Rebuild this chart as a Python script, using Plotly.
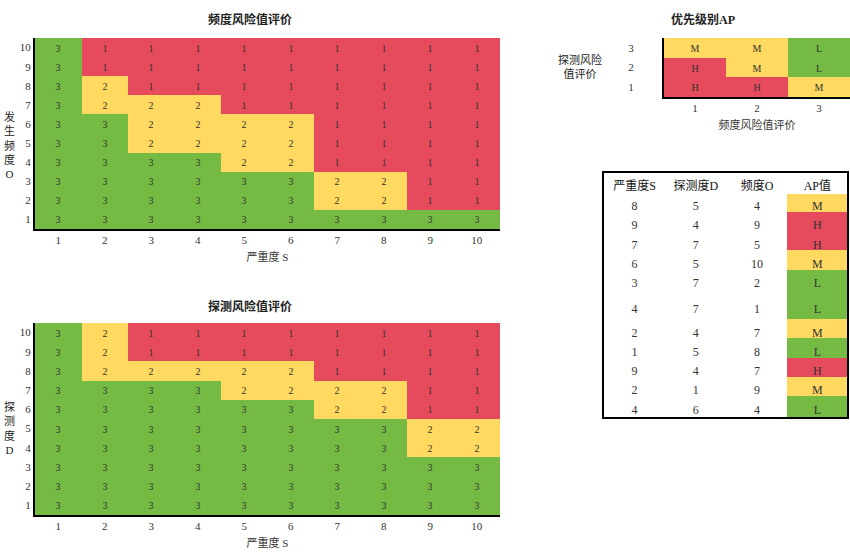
import plotly.graph_objects as go

# 风险值: 1 = 高, 2 = 中, 3 = 低
scores = list(range(1, 11))

freq_risk = [  # rows: 频度O = 1..10, cols: 严重度S = 1..10
    [3, 3, 3, 3, 3, 3, 3, 3, 3, 3],
    [3, 3, 3, 3, 3, 3, 2, 2, 1, 1],
    [3, 3, 3, 3, 3, 3, 2, 2, 1, 1],
    [3, 3, 3, 3, 2, 2, 1, 1, 1, 1],
    [3, 3, 2, 2, 2, 2, 1, 1, 1, 1],
    [3, 3, 2, 2, 2, 2, 1, 1, 1, 1],
    [3, 2, 2, 2, 1, 1, 1, 1, 1, 1],
    [3, 2, 1, 1, 1, 1, 1, 1, 1, 1],
    [3, 1, 1, 1, 1, 1, 1, 1, 1, 1],
    [3, 1, 1, 1, 1, 1, 1, 1, 1, 1],
]

det_risk = [  # rows: 探测度D = 1..10, cols: 严重度S = 1..10
    [3, 3, 3, 3, 3, 3, 3, 3, 3, 3],
    [3, 3, 3, 3, 3, 3, 3, 3, 3, 3],
    [3, 3, 3, 3, 3, 3, 3, 3, 3, 3],
    [3, 3, 3, 3, 3, 3, 3, 3, 2, 2],
    [3, 3, 3, 3, 3, 3, 3, 3, 2, 2],
    [3, 3, 3, 3, 3, 3, 2, 2, 1, 1],
    [3, 3, 3, 3, 2, 2, 2, 2, 1, 1],
    [3, 2, 2, 2, 2, 2, 1, 1, 1, 1],
    [3, 2, 1, 1, 1, 1, 1, 1, 1, 1],
    [3, 2, 1, 1, 1, 1, 1, 1, 1, 1],
]

ap_levels = [1, 2, 3]
ap_labels = [  # rows: 探测风险值 1..3, cols: 频度风险值 1..3
    ["H", "H", "M"],
    ["H", "M", "L"],
    ["M", "M", "L"],
]
ap_code = {"H": 1, "M": 2, "L": 3}

tbl_S = [8, 9, 7, 6, 3, 4, 2, 1, 9, 2, 4]
tbl_D = [5, 4, 7, 5, 7, 7, 4, 5, 4, 1, 6]
tbl_O = [4, 9, 5, 10, 2, 1, 7, 8, 7, 9, 4]
tbl_AP = ["M", "H", "H", "M", "L", "L", "M", "L", "H", "M", "L"]

RED, YEL, GRN = "#E54B5C", "#FFD960", "#74BA43"
cscale = [[0, RED], [0.333, RED], [0.333, YEL], [0.667, YEL], [0.667, GRN], [1, GRN]]
ap_fill = {"H": RED, "M": YEL, "L": GRN}

SERIF = "Liberation Serif, Noto Sans CJK SC"
TXT = "#333333"

W, H = 850, 554
TALL_ROW = 5  # the 6th table row is drawn taller in the original


def fx(p):
    return p / W


def fy(p):
    return 1 - p / H


fig = go.Figure()

fig.add_trace(go.Heatmap(
    x=scores, y=scores, z=freq_risk, zmin=1, zmax=3, colorscale=cscale,
    showscale=False, texttemplate="%{z}", textfont=dict(size=10, color=TXT, family=SERIF),
    xaxis="x", yaxis="y", hoverinfo="skip"))

fig.add_trace(go.Heatmap(
    x=scores, y=scores, z=det_risk, zmin=1, zmax=3, colorscale=cscale,
    showscale=False, texttemplate="%{z}", textfont=dict(size=10, color=TXT, family=SERIF),
    xaxis="x2", yaxis="y2", hoverinfo="skip"))

fig.add_trace(go.Heatmap(
    x=ap_levels, y=ap_levels, z=[[ap_code[v] for v in row] for row in ap_labels],
    text=ap_labels, zmin=1, zmax=3, colorscale=cscale, showscale=False,
    texttemplate="%{text}", textfont=dict(size=10, color=TXT, family=SERIF),
    xaxis="x3", yaxis="y3", hoverinfo="skip"))

cell_vals = [[f"<br>{v}" if i == TALL_ROW else str(v) for i, v in enumerate(col)]
             for col in (tbl_S, tbl_D, tbl_O, tbl_AP)]

fig.add_trace(go.Table(
    domain=dict(x=[fx(604), fx(847)], y=[fy(420), fy(173)]),
    columnwidth=[62, 62, 62, 60],
    header=dict(values=["严重度S", "探测度D", "频度O", "AP值"],
                fill_color="white", line_color="white", height=20,
                font=dict(size=12, color="#111", family=SERIF)),
    cells=dict(values=cell_vals,
               fill_color=[["white"] * len(tbl_AP)] * 3 + [[ap_fill[v] for v in tbl_AP]],
               line_color=[["white"] * len(tbl_AP)] * 3 + [[ap_fill[v] for v in tbl_AP]],
               height=19.3,
               font=dict(size=12, color=TXT, family=SERIF))))

axis_common = dict(showgrid=False, zeroline=False, showline=True, linecolor="black",
                   linewidth=2, ticks="", tickfont=dict(size=11, color=TXT, family=SERIF))

fig.update_layout(
    width=W, height=H, margin=dict(l=0, r=0, t=0, b=0),
    paper_bgcolor="white", plot_bgcolor="white",
    font=dict(family=SERIF, color=TXT),
    xaxis=dict(domain=[fx(35), fx(500)], anchor="y", range=[0.5, 10.5], tickvals=scores,
               title=dict(text="严重度 S", font=dict(size=11), standoff=8), **axis_common),
    yaxis=dict(domain=[fy(229), fy(38)], anchor="x", range=[0.5, 10.5], tickvals=scores,
               **axis_common),
    xaxis2=dict(domain=[fx(35), fx(500)], anchor="y2", range=[0.5, 10.5], tickvals=scores,
                title=dict(text="严重度 S", font=dict(size=11), standoff=8), **axis_common),
    yaxis2=dict(domain=[fy(515), fy(323)], anchor="x2", range=[0.5, 10.5], tickvals=scores,
                **axis_common),
    xaxis3=dict(domain=[fx(664), 1.0], anchor="y3", range=[0.5, 3.5], tickvals=ap_levels,
                title=dict(text="频度风险值评价", font=dict(size=11), standoff=8), **axis_common),
    yaxis3=dict(domain=[fy(97), fy(38)], anchor="x3", range=[0.5, 3.5], tickvals=ap_levels,
                ticklabelstandoff=26, **axis_common),
)

# 标题与纵轴标题
notes = [
    ("<b>频度风险值评价</b>", 250, 20, 12),
    ("<b>探测风险值评价</b>", 250, 306, 12),
    ("<b>优先级别AP</b>", 703, 20, 12),
    ("发<br>生<br>频<br>度<br>O", 9, 145, 11),
    ("探<br>测<br>度<br>D", 9, 428, 11),
    ("探测风险<br>值评价", 580, 67, 11),
]
for text, px, py, size in notes:
    fig.add_annotation(text=text, x=fx(px), y=fy(py), xref="paper", yref="paper",
                       xanchor="center", yanchor="middle",
                       showarrow=False, font=dict(size=size, color="#222"), align="center")

fig.add_shape(type="rect", xref="paper", yref="paper",
              x0=fx(603), x1=fx(848), y0=fy(418), y1=fy(172),
              line=dict(color="black", width=2))

# drop the default body margin so the figure fills the window exactly
fig.write_html("out.html", config={"displayModeBar": False},
               post_script="document.body.style.margin='0';")
